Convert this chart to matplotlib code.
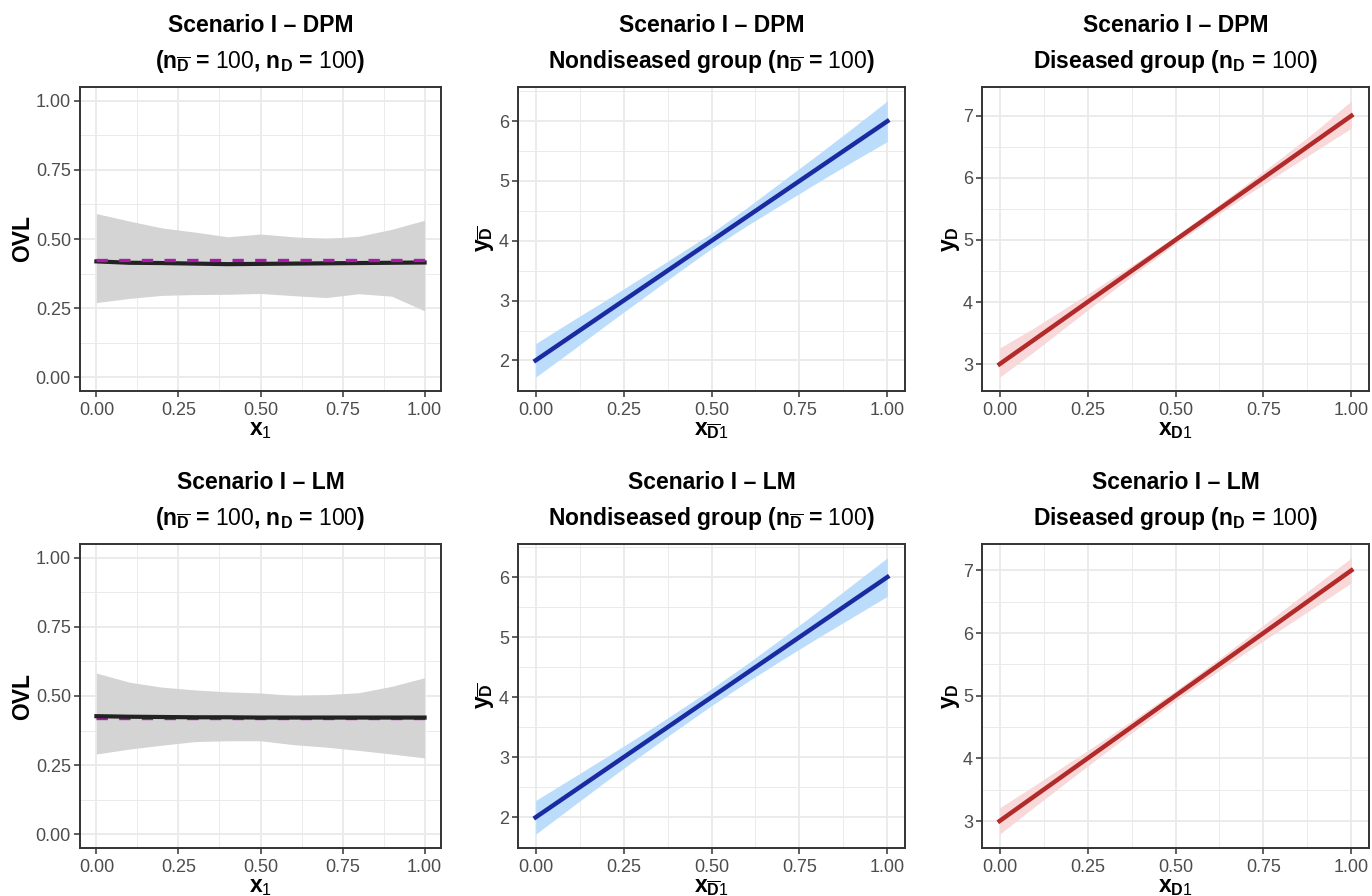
import matplotlib
matplotlib.use("Agg")
import matplotlib.pyplot as plt
from matplotlib.ticker import MultipleLocator

plt.rcParams['font.family'] = ['Liberation Sans', 'DejaVu Sans']
plt.rcParams['mathtext.fontset'] = 'custom'
plt.rcParams['mathtext.rm'] = 'Liberation Sans'
plt.rcParams['mathtext.bf'] = 'Liberation Sans:bold'
plt.rcParams['mathtext.it'] = 'Liberation Sans:italic'

# ---------------- data ----------------
x_grid = [0.0, 0.1, 0.2, 0.3, 0.4, 0.5, 0.6, 0.7, 0.8, 0.9, 1.0]

ovl_true_dpm = 0.423
ovl_true_lm = 0.420
# Scenario I - DPM : OVL
ovl_dpm_est = [0.419, 0.414, 0.413, 0.411, 0.409, 0.410, 0.411, 0.412, 0.413, 0.414, 0.415]
ovl_dpm_low = [0.270, 0.285, 0.296, 0.299, 0.300, 0.303, 0.295, 0.288, 0.302, 0.293, 0.240]
ovl_dpm_upp = [0.592, 0.565, 0.540, 0.525, 0.508, 0.518, 0.508, 0.502, 0.510, 0.535, 0.568]
# Scenario I - LM : OVL
ovl_lm_est = [0.427, 0.425, 0.424, 0.423, 0.423, 0.422, 0.422, 0.422, 0.422, 0.422, 0.422]
ovl_lm_low = [0.290, 0.308, 0.322, 0.335, 0.338, 0.338, 0.324, 0.315, 0.303, 0.290, 0.276]
ovl_lm_upp = [0.583, 0.550, 0.532, 0.522, 0.515, 0.511, 0.502, 0.505, 0.512, 0.535, 0.566]

# Nondiseased group regression
ynd_dpm_est = [2.0, 2.4, 2.8, 3.2, 3.6, 4.0, 4.4, 4.8, 5.2, 5.6, 6.0]
ynd_dpm_low = [1.72, 2.15, 2.59, 3.02, 3.45, 3.87, 4.25, 4.61, 4.97, 5.32, 5.66]
ynd_dpm_upp = [2.28, 2.65, 3.01, 3.38, 3.75, 4.13, 4.55, 4.99, 5.43, 5.88, 6.34]
ynd_lm_est = [2.0, 2.4, 2.8, 3.2, 3.6, 4.0, 4.4, 4.8, 5.2, 5.6, 6.0]
ynd_lm_low = [1.72, 2.16, 2.60, 3.03, 3.45, 3.86, 4.25, 4.62, 4.98, 5.33, 5.68]
ynd_lm_upp = [2.28, 2.64, 3.00, 3.37, 3.75, 4.14, 4.55, 4.98, 5.42, 5.87, 6.32]

# Diseased group regression
yd_dpm_est = [3.0, 3.4, 3.8, 4.2, 4.6, 5.0, 5.4, 5.8, 6.2, 6.6, 7.0]
yd_dpm_low = [2.79, 3.21, 3.65, 4.09, 4.52, 4.94, 5.33, 5.71, 6.08, 6.44, 6.80]
yd_dpm_upp = [3.26, 3.59, 3.95, 4.31, 4.68, 5.06, 5.47, 5.89, 6.32, 6.76, 7.24]
yd_lm_est = [3.0, 3.4, 3.8, 4.2, 4.6, 5.0, 5.4, 5.8, 6.2, 6.6, 7.0]
yd_lm_low = [2.79, 3.23, 3.66, 4.09, 4.51, 4.92, 5.31, 5.69, 6.06, 6.43, 6.80]
yd_lm_upp = [3.21, 3.57, 3.94, 4.31, 4.69, 5.08, 5.49, 5.91, 6.34, 6.77, 7.20]

x_ticks = [0.0, 0.25, 0.5, 0.75, 1.0]
x_ticklabels = ["0.00", "0.25", "0.50", "0.75", "1.00"]
ovl_ticks = [0.0, 0.25, 0.5, 0.75, 1.0]
ovl_ticklabels = ["0.00", "0.25", "0.50", "0.75", "1.00"]

titles1 = ["Scenario I \u2013 DPM", "Scenario I \u2013 LM"]
title2_ovl = r"($\mathbf{n_{\overline{D}}}$ = $\mathrm{100}$, $\mathbf{n_D}$ = $\mathrm{100}$)"
title2_nd = r"Nondiseased group ($\mathbf{n_{\overline{D}}}$ = $\mathrm{100}$)"
title2_d = r"Diseased group ($\mathbf{n_D}$ = $\mathrm{100}$)"

# ---------------- style ----------------
W, H = 1372, 896
fig = plt.figure(figsize=(W / 100, H / 100), dpi=100)
fig.patch.set_facecolor("white")

col_px = [(80, 441), (518, 905), (982, 1369)]
row_px = [(87, 391), (544, 848)]

GRID = "#ebebeb"
BORDER = "#333333"
TICKLAB = "#4d4d4d"


def make_ax(c, r):
    x0, x1 = col_px[c]
    y0, y1 = row_px[r]
    ax = fig.add_axes([x0 / W, 1 - y1 / H, (x1 - x0) / W, (y1 - y0) / H])
    for s in ax.spines.values():
        s.set_color(BORDER)
        s.set_linewidth(1.4)
    ax.set_axisbelow(True)
    ax.tick_params(axis="both", which="major", length=4, width=1.1, color=BORDER,
                   labelcolor=TICKLAB, labelsize=13)
    ax.tick_params(axis="x", pad=4)
    ax.tick_params(axis="y", pad=2.5)
    ax.tick_params(which="minor", length=0)
    ax.grid(True, which="major", color=GRID, linewidth=1.4)
    ax.grid(True, which="minor", color=GRID, linewidth=0.7)
    ax.set_xlim(-0.05, 1.05)
    ax.set_xticks(x_ticks)
    ax.set_xticklabels(x_ticklabels)
    ax.xaxis.set_minor_locator(MultipleLocator(0.125))
    return ax


def titles(c, r, t1, t2):
    x0, x1 = col_px[c]
    cx = (x0 + x1) / 2 / W
    off = row_px[r][0] - row_px[0][0]
    fig.text(cx, 1 - (31.5 + off) / H, t1, ha="center", va="baseline",
             fontsize=16.5, fontweight="bold", color="black")
    fig.text(cx, 1 - (68 + off) / H, t2, ha="center", va="baseline",
             fontsize=16.5, fontweight="bold", color="black")


def labels(c, r, xl, yl, ylx):
    x0, x1 = col_px[c]
    y0, y1 = row_px[r]
    cx = (x0 + x1) / 2 / W
    fig.text(cx, 1 - (y1 + 44) / H, xl, ha="center", va="baseline",
             fontsize=16.5, fontweight="bold")
    fig.text(ylx / W, 1 - ((y0 + y1) / 2) / H, yl, ha="center", va="center",
             rotation=90, fontsize=16.5, fontweight="bold")


def expand(lo, hi):
    r = hi - lo
    return lo - 0.05 * r, hi + 0.05 * r


ovl_sets = [(ovl_dpm_est, ovl_dpm_low, ovl_dpm_upp, ovl_true_dpm),
            (ovl_lm_est, ovl_lm_low, ovl_lm_upp, ovl_true_lm)]
nd_sets = [(ynd_dpm_est, ynd_dpm_low, ynd_dpm_upp), (ynd_lm_est, ynd_lm_low, ynd_lm_upp)]
d_sets = [(yd_dpm_est, yd_dpm_low, yd_dpm_upp), (yd_lm_est, yd_lm_low, yd_lm_upp)]

for r in range(2):
    # OVL panel
    ax = make_ax(0, r)
    est, low, upp, tru = ovl_sets[r]
    ax.fill_between(x_grid, low, upp, color="#d4d4d4", linewidth=0, zorder=2)
    ax.plot(x_grid, est, color="#222222", linewidth=3.0, zorder=3)
    ax.plot([x_grid[0], x_grid[-1]], [tru, tru], color="#a81ca8",
            linewidth=2.4, dashes=(3.4, 3.4), zorder=4 if r == 0 else 2.5)
    ax.set_ylim(-0.05, 1.05)
    ax.set_yticks(ovl_ticks)
    ax.set_yticklabels(ovl_ticklabels)
    ax.yaxis.set_minor_locator(MultipleLocator(0.125))
    titles(0, r, titles1[r], title2_ovl)
    labels(0, r, r"$\mathbf{x}_{\mathrm{1}}$", "OVL", 23)

    # Nondiseased panel
    ax = make_ax(1, r)
    est, low, upp = nd_sets[r]
    ax.fill_between(x_grid, low, upp, color="#bcdcfb", linewidth=0, zorder=2)
    ax.plot(x_grid, est, color="#1a2aa0", linewidth=3.2, zorder=4)
    ax.set_ylim(*expand(min(low), max(upp)))
    ax.yaxis.set_major_locator(MultipleLocator(1))
    ax.yaxis.set_minor_locator(MultipleLocator(0.5))
    titles(1, r, titles1[r], title2_nd)
    labels(1, r, r"$\mathbf{x}_{\mathbf{\overline{D}}\mathrm{1}}$",
           r"$\mathbf{y_{\overline{D}}}$", 485)

    # Diseased panel
    ax = make_ax(2, r)
    est, low, upp = d_sets[r]
    ax.fill_between(x_grid, low, upp, color="#f8d8d8", linewidth=0, zorder=2)
    ax.plot(x_grid, est, color="#b22a2a", linewidth=3.2, zorder=4)
    ax.set_ylim(*expand(min(low), max(upp)))
    ax.yaxis.set_major_locator(MultipleLocator(1))
    ax.yaxis.set_minor_locator(MultipleLocator(0.5))
    titles(2, r, titles1[r], title2_d)
    labels(2, r, r"$\mathbf{x}_{\mathbf{D}\mathrm{1}}$",
           r"$\mathbf{y_{D}}$", 950)

fig.savefig("out.png", dpi=100, facecolor="white")
